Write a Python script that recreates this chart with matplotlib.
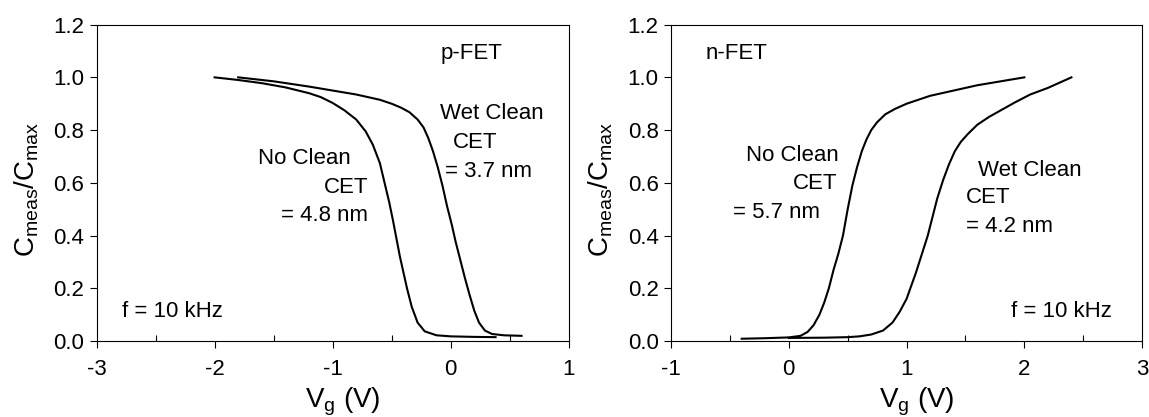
import numpy as np
import matplotlib
matplotlib.use("Agg")
import matplotlib.pyplot as plt
from matplotlib.ticker import MultipleLocator, FormatStrFormatter

plt.rcParams['font.family'] = ['Liberation Sans', 'DejaVu Sans']
plt.rcParams['mathtext.fontset'] = 'custom'
plt.rcParams['mathtext.rm'] = 'Liberation Sans'
plt.rcParams['mathtext.it'] = 'Liberation Sans'
plt.rcParams['axes.unicode_minus'] = False

# p-FET curves (Vg in V, Cmeas/Cmax)
p_noclean_v = [-2.0, -1.8, -1.6, -1.4, -1.2, -1.1, -1.0, -0.9, -0.8, -0.72, -0.66, -0.6, -0.56,
               -0.52, -0.49, -0.46, -0.43, -0.40, -0.37, -0.33, -0.28, -0.22, -0.12, 0.0, 0.2, 0.38]
p_noclean_c = [1.0, 0.99, 0.978, 0.962, 0.94, 0.925, 0.903, 0.875, 0.84, 0.795, 0.745, 0.675, 0.60,
               0.525, 0.46, 0.39, 0.32, 0.26, 0.20, 0.13, 0.07, 0.037, 0.022, 0.018, 0.016, 0.015]
p_wet_v = [-1.8, -1.5, -1.2, -1.0, -0.8, -0.6, -0.5, -0.42, -0.35, -0.28, -0.23, -0.19, -0.15,
           -0.11, -0.07, -0.03, 0.01, 0.04, 0.08, 0.12, 0.16, 0.2, 0.24, 0.29, 0.35, 0.45, 0.6]
p_wet_c = [1.0, 0.985, 0.965, 0.95, 0.935, 0.915, 0.90, 0.885, 0.868, 0.84, 0.81, 0.77, 0.72,
           0.66, 0.59, 0.51, 0.44, 0.38, 0.31, 0.24, 0.175, 0.115, 0.07, 0.04, 0.027, 0.022, 0.02]

# n-FET curves
n_noclean_v = [-0.4, -0.2, 0.0, 0.1, 0.16, 0.21, 0.26, 0.30, 0.34, 0.38, 0.42, 0.46, 0.5,
               0.54, 0.58, 0.62, 0.66, 0.70, 0.75, 0.82, 0.9, 1.0, 1.2, 1.4, 1.6, 1.8, 2.0]
n_noclean_c = [0.009, 0.011, 0.014, 0.02, 0.035, 0.06, 0.1, 0.145, 0.2, 0.27, 0.33, 0.4, 0.5,
               0.59, 0.66, 0.72, 0.765, 0.80, 0.83, 0.86, 0.88, 0.9, 0.93, 0.95, 0.97, 0.985, 1.0]
n_wet_v = [0.0, 0.3, 0.5, 0.6, 0.7, 0.8, 0.88, 0.94, 1.0, 1.04, 1.08, 1.13, 1.18, 1.22,
           1.26, 1.31, 1.36, 1.41, 1.46, 1.52, 1.6, 1.7, 1.8, 1.92, 2.05, 2.2, 2.4]
n_wet_c = [0.012, 0.013, 0.015, 0.018, 0.025, 0.04, 0.07, 0.11, 0.16, 0.21, 0.26, 0.33, 0.4,
           0.47, 0.54, 0.61, 0.67, 0.72, 0.755, 0.785, 0.82, 0.85, 0.875, 0.905, 0.935, 0.96, 1.0]

fig = plt.figure(figsize=(11.49, 4.17), dpi=100)
ax1 = fig.add_axes([0.084, 0.182, 0.411, 0.759])
ax2 = fig.add_axes([0.584, 0.182, 0.410, 0.759])

def style(ax, xlim):
    ax.set_xlim(*xlim)
    ax.set_ylim(0, 1.2)
    ax.xaxis.set_major_locator(MultipleLocator(1))
    ax.xaxis.set_minor_locator(MultipleLocator(0.5))
    ax.yaxis.set_major_locator(MultipleLocator(0.2))
    ax.yaxis.set_major_formatter(FormatStrFormatter('%.1f'))
    ax.tick_params(axis='both', which='major', direction='out', length=5, width=0.8,
                   labelsize=16)
    ax.tick_params(axis='x', which='major', pad=8)
    ax.tick_params(axis='y', which='major', pad=4)
    ax.tick_params(axis='x', which='minor', direction='in', length=4, width=0.8)
    for s in ax.spines.values():
        s.set_linewidth(0.8)
    ax.set_xlabel('V$_\\mathregular{g}$ (V)', fontsize=20)
    ax.set_ylabel('C$_\\mathregular{meas}$/C$_\\mathregular{max}$', fontsize=20)
    ax.xaxis.set_label_coords(0.522, -0.14)
    ax.yaxis.set_label_coords(-0.118, 0.48)

fs = 16
style(ax1, (-3, 1))
ax1.plot(p_noclean_v, p_noclean_c, color='black', lw=1.5)
ax1.plot(p_wet_v, p_wet_c, color='black', lw=1.5)
ax1.text(-0.09, 1.071, 'p-FET', fontsize=fs)
ax1.text(-0.09, 0.842, 'Wet Clean', fontsize=fs)
ax1.text(0.02, 0.734, 'CET', fontsize=fs)
ax1.text(-0.05, 0.624, '= 3.7 nm', fontsize=fs)
ax1.text(-1.635, 0.671, 'No Clean', fontsize=fs)
ax1.text(-0.70, 0.563, 'CET', fontsize=fs, ha='right')
ax1.text(-0.70, 0.456, '= 4.8 nm', fontsize=fs, ha='right')
ax1.text(-2.787, 0.092, 'f = 10 kHz', fontsize=fs)

style(ax2, (-1, 3))
ax2.plot(n_noclean_v, n_noclean_c, color='black', lw=1.5)
ax2.plot(n_wet_v, n_wet_c, color='black', lw=1.5)
ax2.text(-0.708, 1.068, 'n-FET', fontsize=fs)
ax2.text(0.42, 0.684, 'No Clean', fontsize=fs, ha='right')
ax2.text(0.41, 0.576, 'CET', fontsize=fs, ha='right')
ax2.text(-0.473, 0.468, '= 5.7 nm', fontsize=fs)
ax2.text(1.604, 0.627, 'Wet Clean', fontsize=fs)
ax2.text(1.504, 0.522, 'CET', fontsize=fs)
ax2.text(1.504, 0.414, '= 4.2 nm', fontsize=fs)
ax2.text(2.74, 0.091, 'f = 10 kHz', fontsize=fs, ha='right')

fig.savefig('out.png', dpi=100)
